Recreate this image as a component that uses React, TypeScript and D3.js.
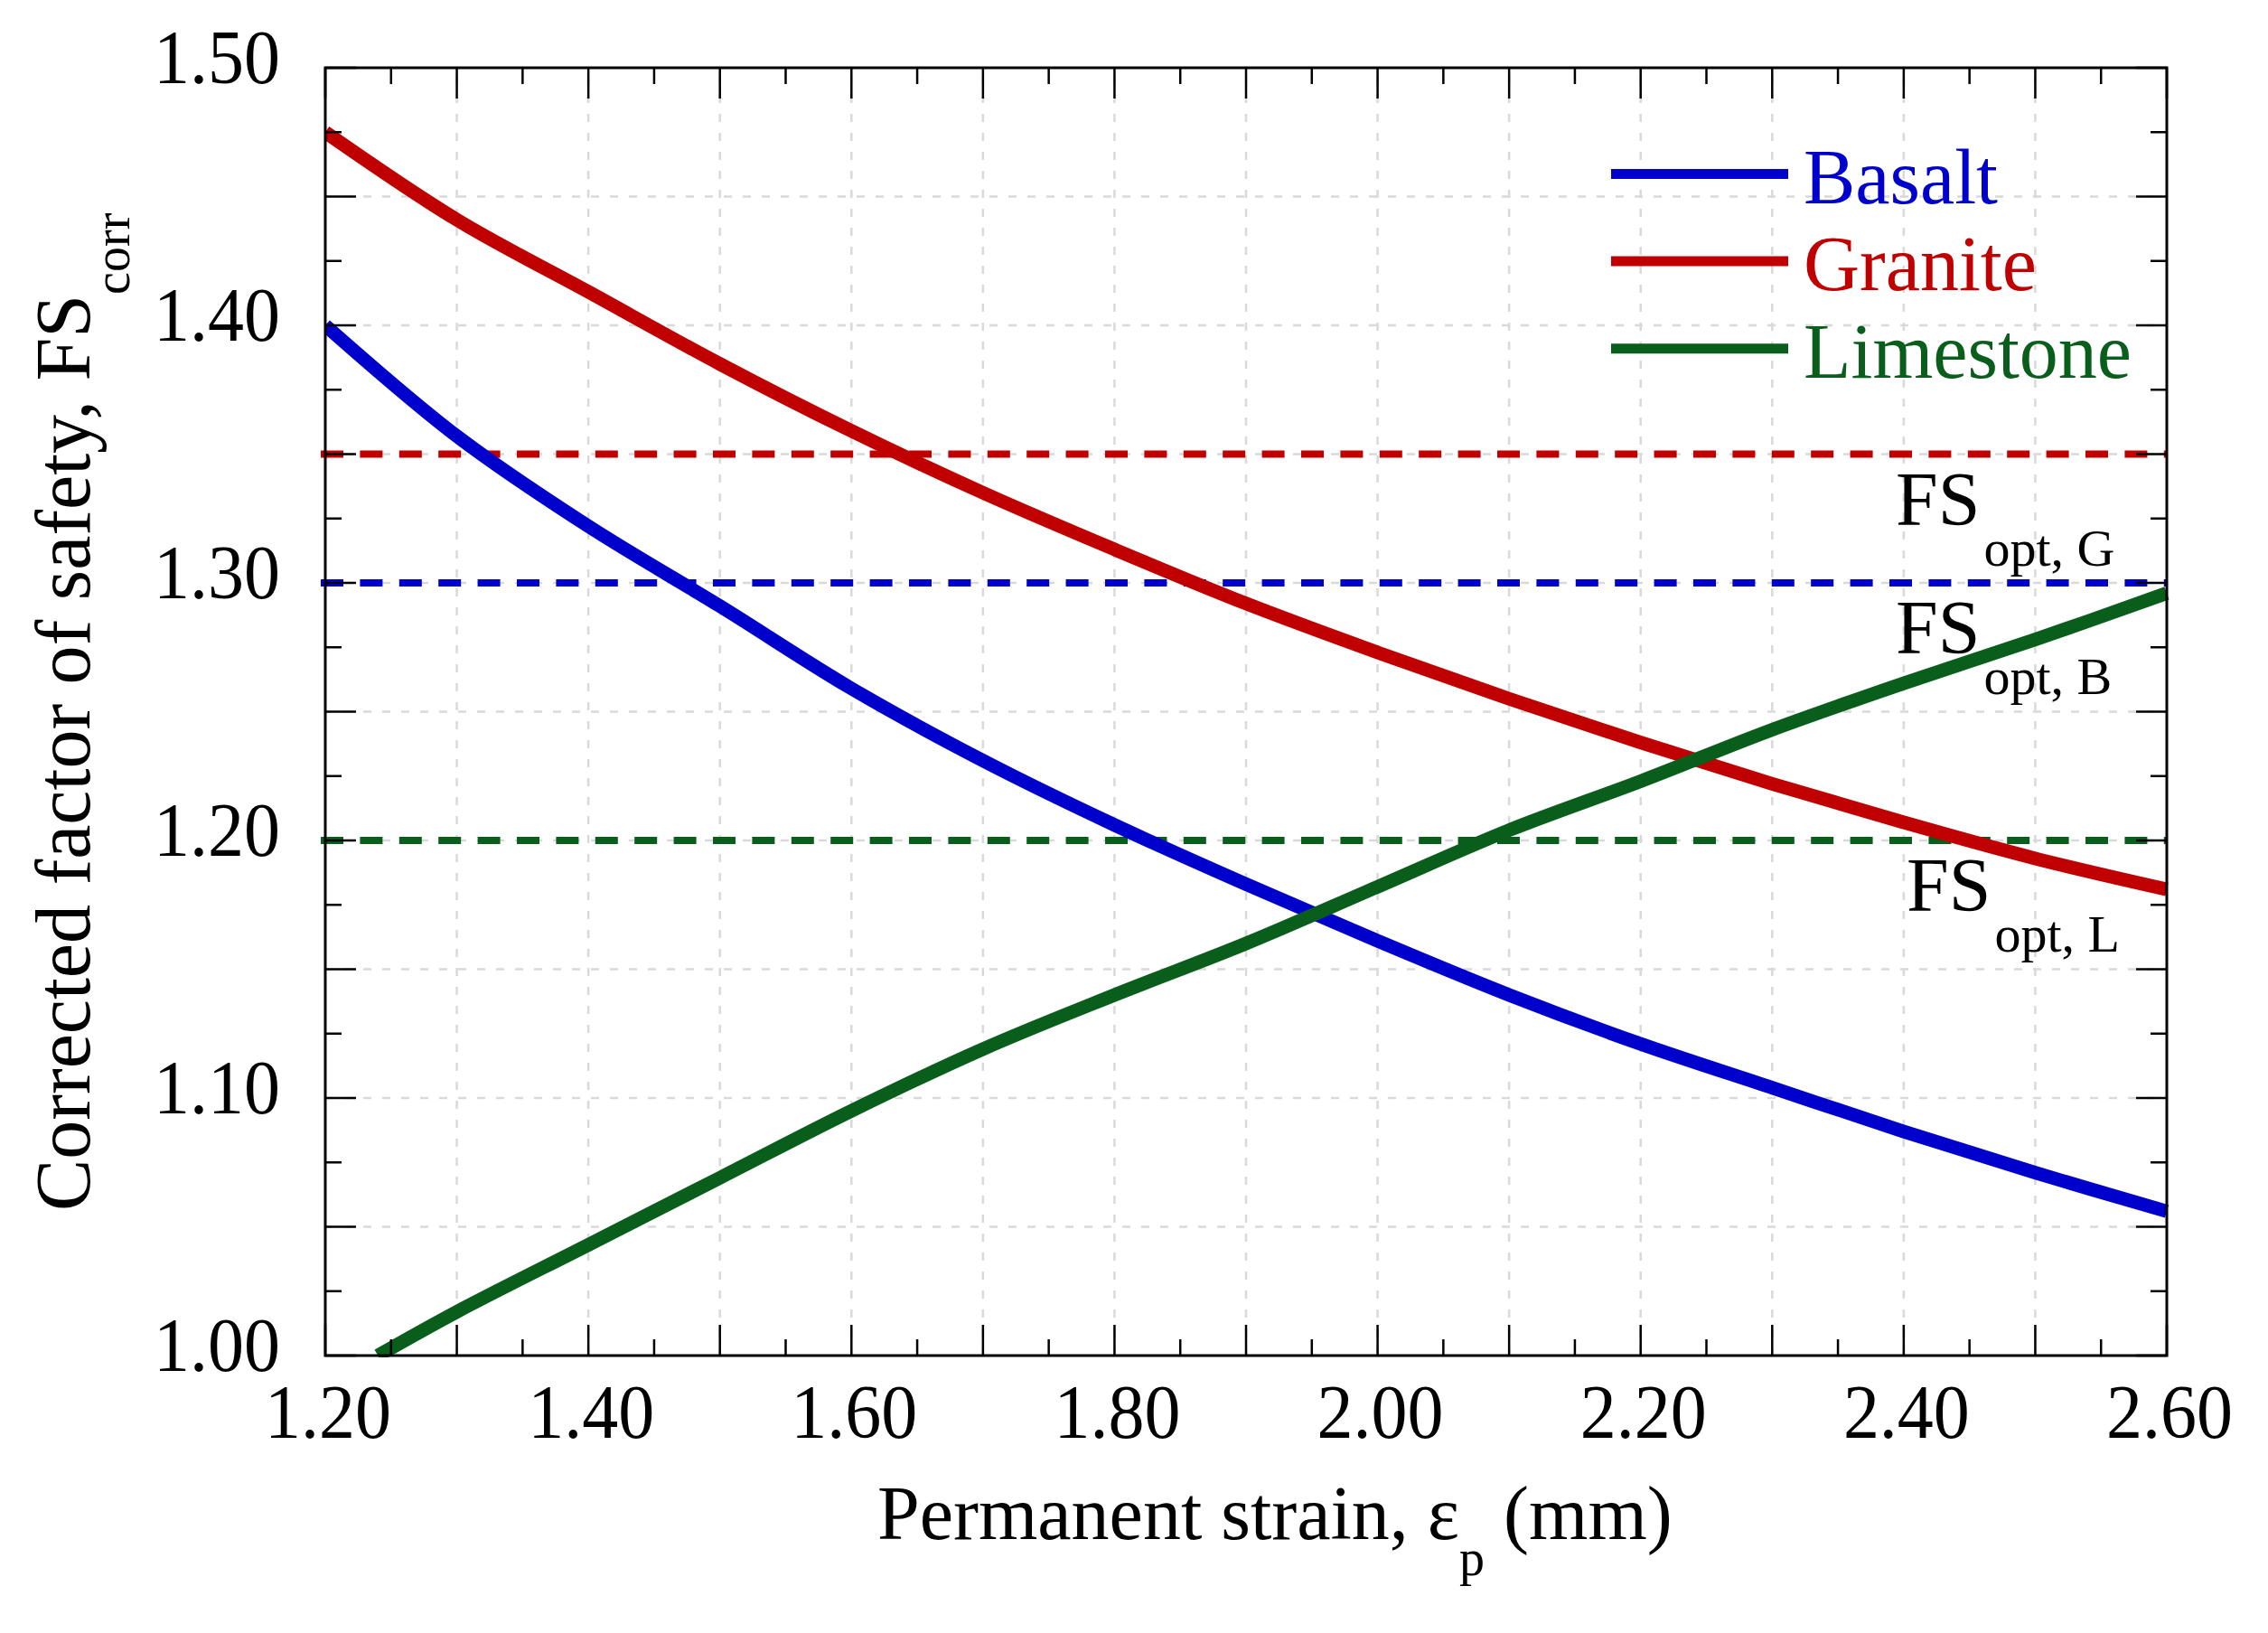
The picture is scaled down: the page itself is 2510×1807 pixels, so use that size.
import React from "react";
import * as d3 from "d3";

const WIDTH = 2510;
const HEIGHT = 1807;
const FONT = "'Liberation Serif', 'Times New Roman', serif";

// values
const strain = [1.2, 1.3, 1.4, 1.5, 1.6, 1.7, 1.8, 1.9, 2.0, 2.1, 2.2, 2.3, 2.4, 2.5, 2.6];
const basalt = [1.4, 1.357, 1.322, 1.291, 1.259, 1.231, 1.206, 1.183, 1.161, 1.14, 1.121, 1.104, 1.087, 1.071, 1.056];
const granite = [1.475, 1.441, 1.413, 1.385, 1.359, 1.335, 1.313, 1.292, 1.273, 1.255, 1.238, 1.222, 1.207, 1.193, 1.181];
const limestoneStrain = [1.24, 1.3, 1.4, 1.5, 1.6, 1.7, 1.8, 1.9, 2.0, 2.1, 2.2, 2.3, 2.4, 2.5, 2.6];
const limestone = [1.0, 1.017, 1.043, 1.069, 1.095, 1.119, 1.14, 1.16, 1.182, 1.204, 1.223, 1.243, 1.261, 1.278, 1.296];

const optValues = [1.35, 1.3, 1.2]; // granite, basalt, limestone
const xTickLabels = ["1.20", "1.40", "1.60", "1.80", "2.00", "2.20", "2.40", "2.60"];
const yTickLabels = ["1.00", "1.10", "1.20", "1.30", "1.40", "1.50"];

const BLUE = "#0000cc";
const RED = "#c00000";
const GREEN = "#0a5e1c";

const x = d3.scaleLinear().domain([1.2, 2.6]).range([360, 2398]);
const y = d3.scaleLinear().domain([1.0, 1.5]).range([1500, 75]);

const line = d3
  .line<[number, number]>()
  .x((d) => x(d[0]))
  .y((d) => y(d[1]))
  .curve(d3.curveCatmullRom.alpha(0.5));

const series = [
  { name: "Basalt", color: BLUE, pts: strain.map((s, i) => [s, basalt[i]] as [number, number]) },
  { name: "Granite", color: RED, pts: strain.map((s, i) => [s, granite[i]] as [number, number]) },
  { name: "Limestone", color: GREEN, pts: limestoneStrain.map((s, i) => [s, limestone[i]] as [number, number]) },
];

const optLines = [
  { v: optValues[0], color: RED, sub: "opt, G", fsX: 2098 },
  { v: optValues[1], color: BLUE, sub: "opt, B", fsX: 2098 },
  { v: optValues[2], color: GREEN, sub: "opt, L", fsX: 2110 },
];

export default function App() {
  const [x0, x1] = x.range();
  const [y0, y1] = y.range();
  const xMajor = d3.range(12, 27).map((i) => i / 10);
  const xMinor = d3.range(12, 26).map((i) => i / 10 + 0.05);
  const yMajor = d3.range(20, 31).map((i) => i / 20);
  const yMinor = d3.range(20, 30).map((i) => i / 20 + 0.025);
  const LONG = 34;
  const SHORT = 18;

  return (
    <svg
      width={WIDTH}
      height={HEIGHT}
      style={{ position: "absolute", left: 0, top: 0, background: "#fff" }}
      fontFamily={FONT}
    >
      <rect width={WIDTH} height={HEIGHT} fill="#fff" />

      {/* grid */}
      <g stroke="#d9d9d9" strokeWidth={2.5} strokeDasharray="9 12">
        {xMajor.slice(1, -1).map((v) => (
          <line key={"gx" + v} x1={x(v)} x2={x(v)} y1={y0} y2={y1} />
        ))}
        {yMajor.slice(1, -1).map((v) => (
          <line key={"gy" + v} x1={x0} x2={x1} y1={y(v)} y2={y(v)} />
        ))}
      </g>

      {/* optimum factor of safety lines */}
      {optLines.map((o) => (
        <line
          key={"opt" + o.v}
          x1={x0 - 5}
          x2={x1}
          y1={y(o.v)}
          y2={y(o.v)}
          stroke={o.color}
          strokeWidth={8}
          strokeDasharray="25 18.4"
        />
      ))}

      {/* curves */}
      <defs>
        <clipPath id="plotClip">
          <rect x={x0} y={y1 - 20} width={x1 - x0 + 10} height={y0 - y1 + 22} />
        </clipPath>
      </defs>
      <g clipPath="url(#plotClip)">
        {series.map((s) => (
          <path key={s.name} d={line(s.pts) || ""} fill="none" stroke={s.color} strokeWidth={15} />
        ))}
      </g>

      {/* frame and ticks */}
      <g stroke="#000" strokeWidth={2.5}>
        {xMajor.map((v) => (
          <g key={"tx" + v}>
            <line x1={x(v)} x2={x(v)} y1={y0} y2={y0 - LONG} />
            <line x1={x(v)} x2={x(v)} y1={y1} y2={y1 + LONG} />
          </g>
        ))}
        {xMinor.map((v) => (
          <g key={"tmx" + v}>
            <line x1={x(v)} x2={x(v)} y1={y0} y2={y0 - SHORT} />
            <line x1={x(v)} x2={x(v)} y1={y1} y2={y1 + SHORT} />
          </g>
        ))}
        {yMajor.map((v) => (
          <g key={"ty" + v}>
            <line x1={x0} x2={x0 + LONG} y1={y(v)} y2={y(v)} />
            <line x1={x1} x2={x1 - LONG} y1={y(v)} y2={y(v)} />
          </g>
        ))}
        {yMinor.map((v) => (
          <g key={"tmy" + v}>
            <line x1={x0} x2={x0 + SHORT} y1={y(v)} y2={y(v)} />
            <line x1={x1} x2={x1 - SHORT} y1={y(v)} y2={y(v)} />
          </g>
        ))}
      </g>
      <rect x={x0} y={y1} width={x1 - x0} height={y0 - y1} fill="none" stroke="#000" strokeWidth={3} />

      {/* tick labels */}
      {xTickLabels.map((t) => (
        <text
          key={"xl" + t}
          transform={`translate(${x(+t) + 3},1591) scale(1,1.07)`}
          textAnchor="middle"
          fontSize={80}
          fill="#000"
        >
          {t}
        </text>
      ))}
      {yTickLabels.map((t) => (
        <text
          key={"yl" + t}
          transform={`translate(310,${y(+t) + 17}) scale(1,1.07)`}
          textAnchor="end"
          fontSize={80}
          fill="#000"
        >
          {t}
        </text>
      ))}

      {/* axis titles */}
      <text x={971} y={1703} fontSize={84} fill="#000">
        Permanent strain, ε
        <tspan dy={40} fontSize={56}>p</tspan>
        <tspan dy={-40}> (mm)</tspan>
      </text>
      <text transform="translate(99,1340) rotate(-90)" fontSize={86} fill="#000">
        Corrected factor of safety, FS
        <tspan dy={44} fontSize={56}>corr</tspan>
      </text>

      {/* legend */}
      {series.map((s, i) => {
        const ly = 192.5 + i * 96.6;
        return (
          <g key={"lg" + s.name}>
            <line x1={1783} x2={1979} y1={ly} y2={ly} stroke={s.color} strokeWidth={11} />
            <text x={1996} y={ly + 32} fontSize={86} fill={s.color}>
              {s.name}
            </text>
          </g>
        );
      })}

      {/* FS_opt annotations */}
      {optLines.map((o) => (
        <text key={"an" + o.sub} x={o.fsX} y={y(o.v) + 78} fontSize={84} fill="#000">
          FS
          <tspan dx={4} dy={45} fontSize={58}>
            {o.sub}
          </tspan>
        </text>
      ))}
    </svg>
  );
}
